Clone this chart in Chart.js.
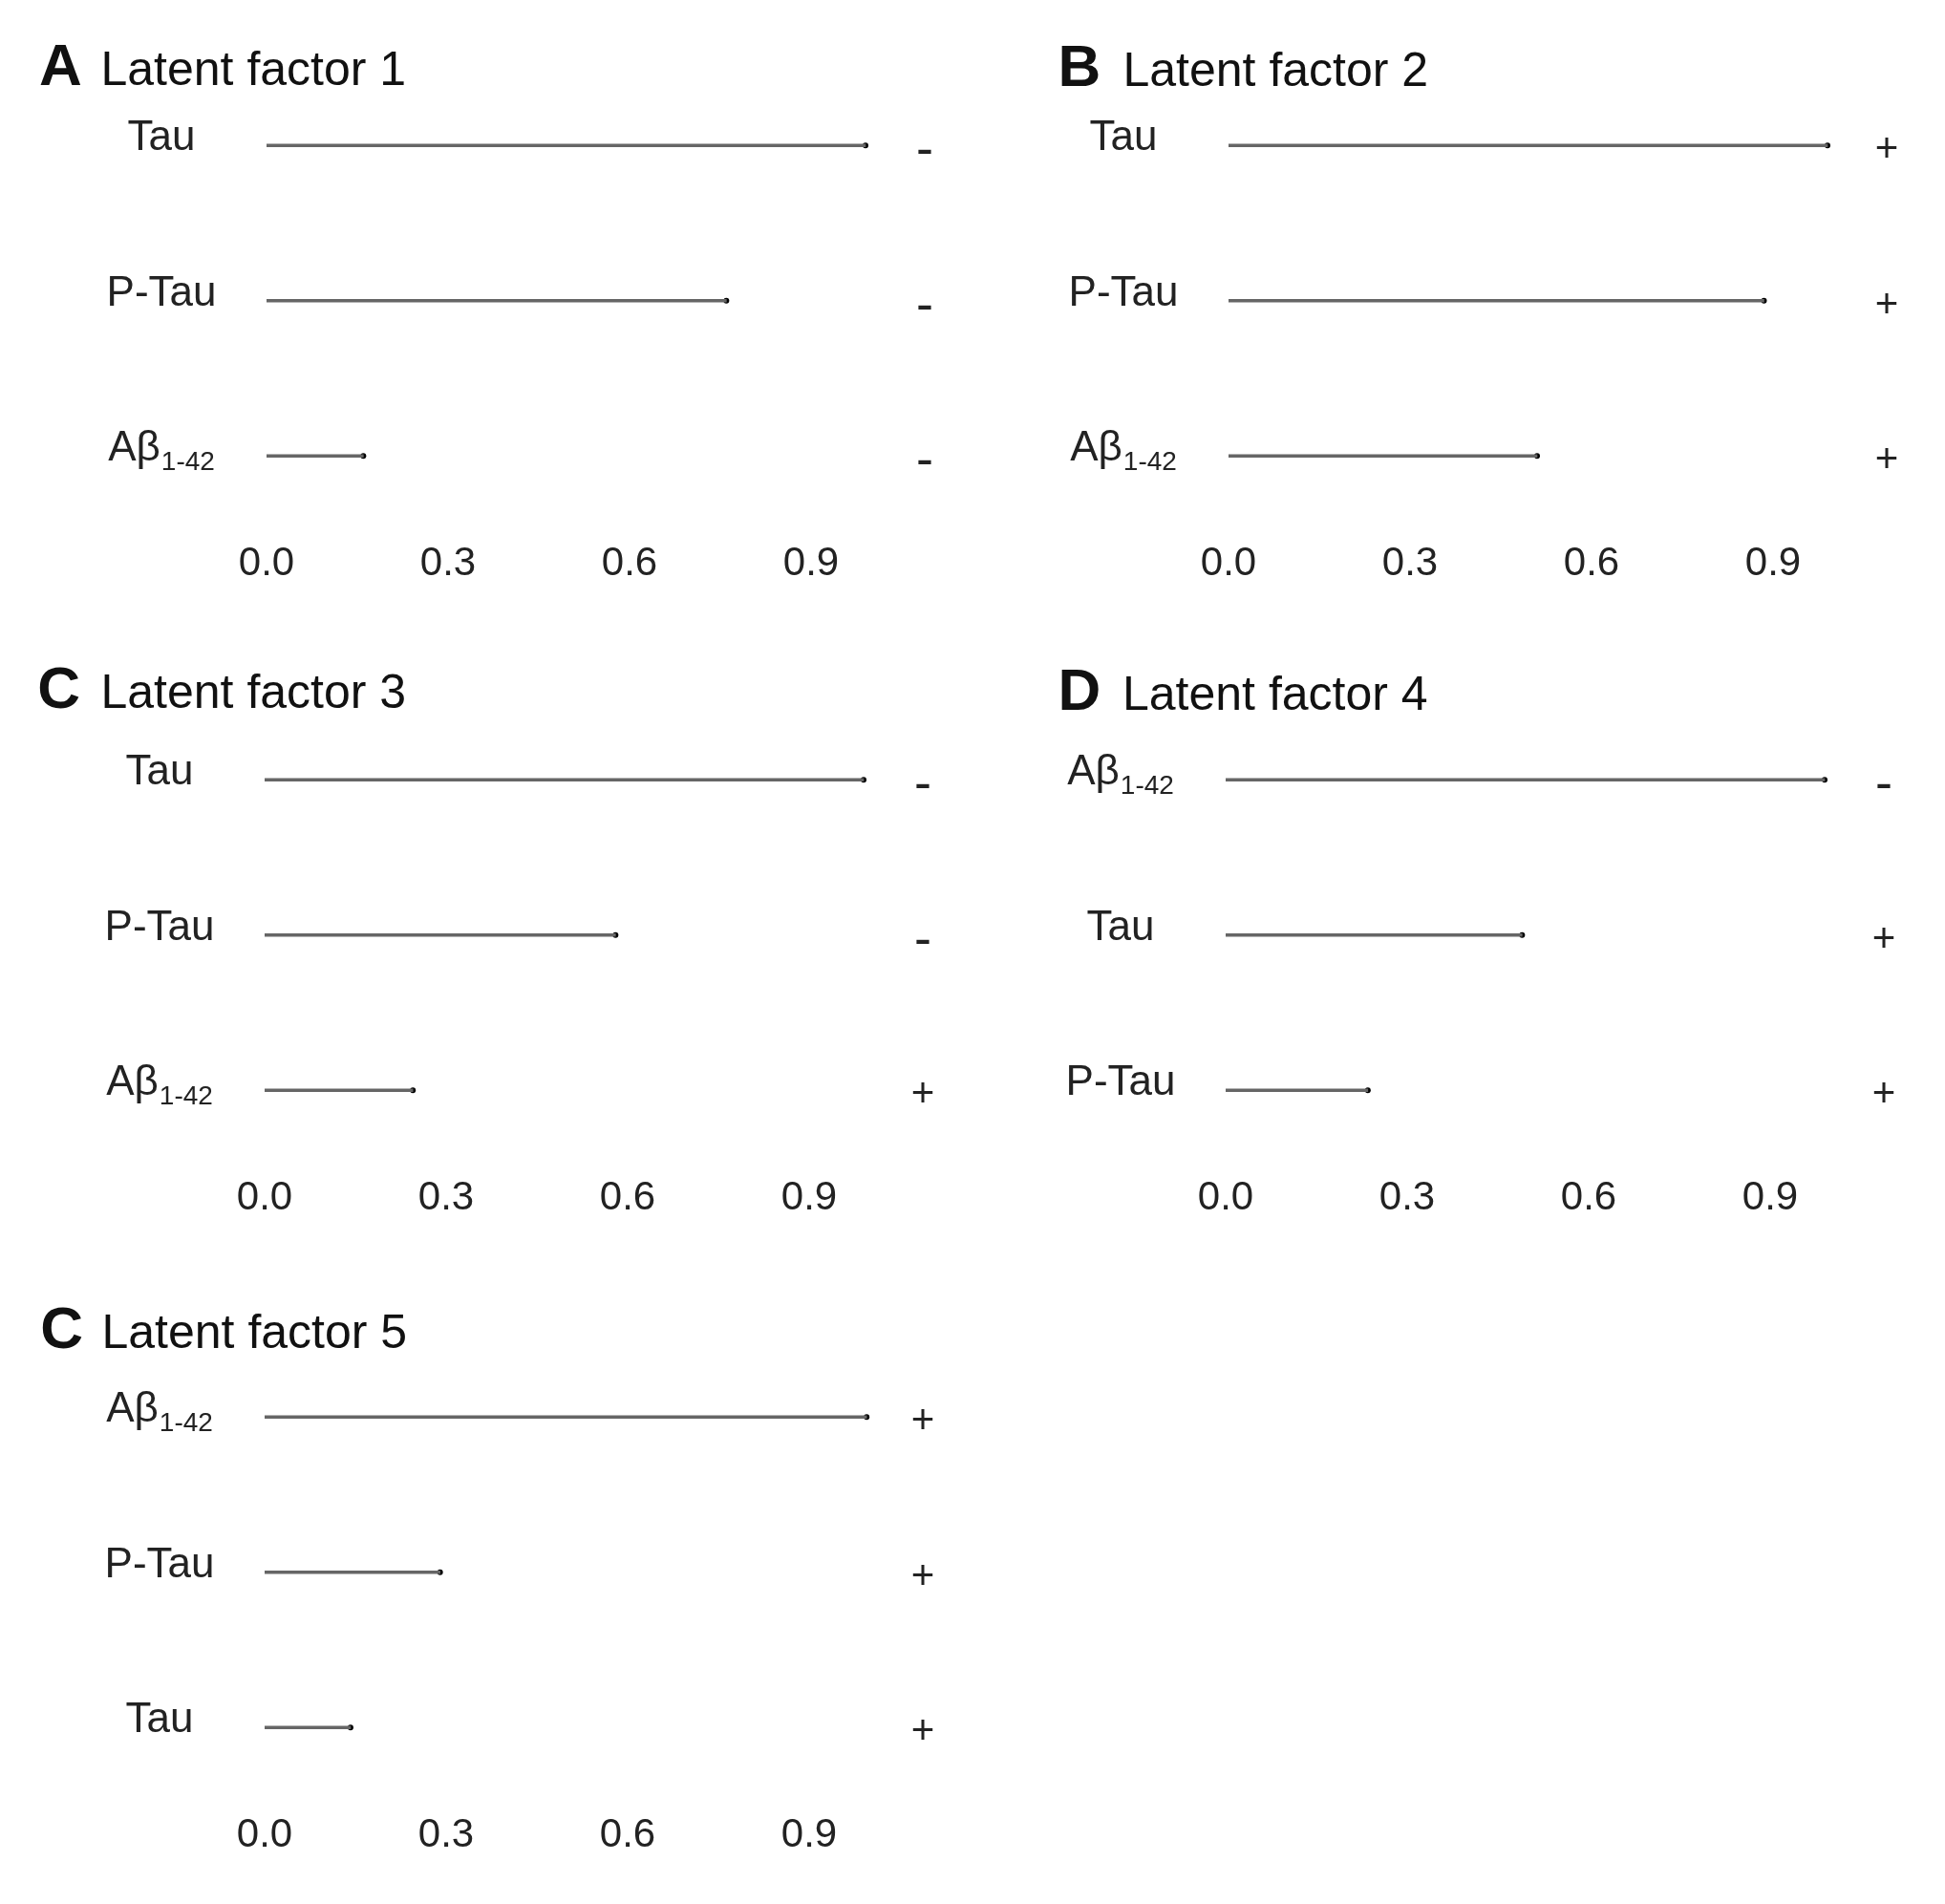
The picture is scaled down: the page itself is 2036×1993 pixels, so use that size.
<!DOCTYPE html>
<html>
<head>
<meta charset="utf-8">
<title>Latent factors</title>
<script src="https://cdn.jsdelivr.net/npm/chart.js@4.4.1/dist/chart.umd.min.js"></script>
<style>
  html, body { margin: 0; padding: 0; background: #fff; }
  body { width: 2036px; height: 1993px; position: relative; overflow: hidden; }
  .panel { position: absolute; width: 1010px; height: 640px; }
</style>
</head>
<body>
<div class="panel" style="left:0px;top:0px"><canvas id="lf1" width="1010" height="640"></canvas></div>
<div class="panel" style="left:1007px;top:0px"><canvas id="lf2" width="1010" height="640"></canvas></div>
<div class="panel" style="left:-2px;top:664px"><canvas id="lf3" width="1010" height="640"></canvas></div>
<div class="panel" style="left:1004px;top:664px"><canvas id="lf4" width="1010" height="640"></canvas></div>
<div class="panel" style="left:-2px;top:1331px"><canvas id="lf5" width="1010" height="640"></canvas></div>
<script>
// ===== DATA =====
const panelLetters = ["A", "B", "C", "D", "C"];
const panelTitles = ["Latent factor 1", "Latent factor 2", "Latent factor 3", "Latent factor 4", "Latent factor 5"];

const rowsLF1 = ["Tau", "P-Tau", "Aβ1-42"];
const loadingsLF1 = [0.99, 0.76, 0.16];
const signsLF1 = ["-", "-", "-"];

const rowsLF2 = ["Tau", "P-Tau", "Aβ1-42"];
const loadingsLF2 = [0.99, 0.885, 0.51];
const signsLF2 = ["+", "+", "+"];

const rowsLF3 = ["Tau", "P-Tau", "Aβ1-42"];
const loadingsLF3 = [0.99, 0.58, 0.245];
const signsLF3 = ["-", "-", "+"];

const rowsLF4 = ["Aβ1-42", "Tau", "P-Tau"];
const loadingsLF4 = [0.99, 0.49, 0.235];
const signsLF4 = ["-", "+", "+"];

const rowsLF5 = ["Aβ1-42", "P-Tau", "Tau"];
const loadingsLF5 = [0.995, 0.29, 0.142];
const signsLF5 = ["+", "+", "+"];

const tickValues = [0, 0.3, 0.6, 0.9];

// ===== LAYOUT (canvas coords) =====
const FONT = "'Liberation Sans', Arial, Helvetica, sans-serif";
const INK = "#222";
const titlePos = [
  { lx: 41, tx: 105.5, by: 89 },
  { lx: 100.5, tx: 168.5, by: 90 },
  { lx: 41.3, tx: 107.5, by: 77 },
  { lx: 103.5, tx: 171, by: 79 },
  { lx: 44.3, tx: 108.5, by: 80 },
];

// row labels (with subscript for Aβ1-42), sign column and panel title
const panelTextPlugin = {
  id: "panelText",
  afterDraw(chart, args, opts) {
    const ctx = chart.ctx;
    const yScale = chart.scales.y;
    const area = chart.chartArea;
    const cx = area.left - 110;
    ctx.save();
    ctx.fillStyle = INK;
    ctx.textBaseline = "alphabetic";

    chart.data.labels.forEach((label, i) => {
      const py = yScale.getPixelForValue(i) + 5;
      const m = label.match(/^(Aβ)(.+)$/);
      const main = m ? m[1] : label;
      const sub = m ? m[2] : "";
      ctx.textAlign = "left";
      ctx.font = `44px ${FONT}`;
      const wMain = ctx.measureText(main).width;
      ctx.font = `28px ${FONT}`;
      const wSub = sub ? ctx.measureText(sub).width + 1 : 0;
      const x = cx - (wMain + wSub) / 2;
      ctx.font = `44px ${FONT}`;
      ctx.fillText(main, x, py);
      if (sub) {
        ctx.font = `28px ${FONT}`;
        ctx.fillText(sub, x + wMain + 1, py + 10);
      }
    });

    // loading signs
    ctx.textAlign = "center";
    opts.signs.forEach((s, i) => {
      const py = yScale.getPixelForValue(i);
      if (s === "-") {
        ctx.font = `54px ${FONT}`;
        ctx.fillText(s, area.right + 24, py + 21);
      } else {
        ctx.font = `42px ${FONT}`;
        ctx.fillText(s, area.right + 24, py + 17);
      }
    });

    ctx.textAlign = "left";
    ctx.fillStyle = "#111";
    ctx.font = `bold 62px ${FONT}`;
    ctx.fillText(opts.letter, opts.lx, opts.by);
    ctx.font = `50px ${FONT}`;
    ctx.fillText(opts.title, opts.tx, opts.by);
    ctx.restore();
  },
};

function renderPanel(canvasId, idx, rows, loadings, signs) {
  const ctx = document.getElementById(canvasId);
  const pos = titlePos[idx];

  new Chart(ctx, {
    type: "bar",
    data: {
      labels: rows,
      datasets: [
        {
          data: loadings,
          backgroundColor: "#666",
          barThickness: 3,
          borderWidth: 0,
          indexAxis: "y",
        },
        {
          type: "line",
          data: loadings,
          indexAxis: "y",
          showLine: false,
          pointRadius: 3,
          pointBackgroundColor: "#000",
          pointBorderWidth: 0,
          clip: false,
        },
      ],
    },
    options: {
      indexAxis: "y",
      responsive: false,
      animation: false,
      layout: { padding: { left: 279, right: 66, top: 71, bottom: 21.5 } },
      plugins: {
        legend: { display: false },
        tooltip: { enabled: false },
        panelText: {
          letter: panelLetters[idx],
          title: panelTitles[idx],
          signs: signs,
          lx: pos.lx,
          tx: pos.tx,
          by: pos.by,
        },
      },
      scales: {
        x: {
          type: "linear",
          min: 0,
          max: 1.05,
          grid: { display: false, drawTicks: false },
          border: { display: false },
          afterBuildTicks: (scale) => {
            scale.ticks = tickValues.map((v) => ({ value: v }));
          },
          afterFit: (scale) => {
            scale.height = 60;
          },
          ticks: {
            padding: 7,
            color: INK,
            font: { family: FONT, size: 42 },
            callback: (v) => Number(v).toFixed(1),
          },
        },
        y: {
          display: false,
          offset: true,
        },
      },
    },
    plugins: [panelTextPlugin],
  });
}

renderPanel("lf1", 0, rowsLF1, loadingsLF1, signsLF1);
renderPanel("lf2", 1, rowsLF2, loadingsLF2, signsLF2);
renderPanel("lf3", 2, rowsLF3, loadingsLF3, signsLF3);
renderPanel("lf4", 3, rowsLF4, loadingsLF4, signsLF4);
renderPanel("lf5", 4, rowsLF5, loadingsLF5, signsLF5);
</script>
</body>
</html>
